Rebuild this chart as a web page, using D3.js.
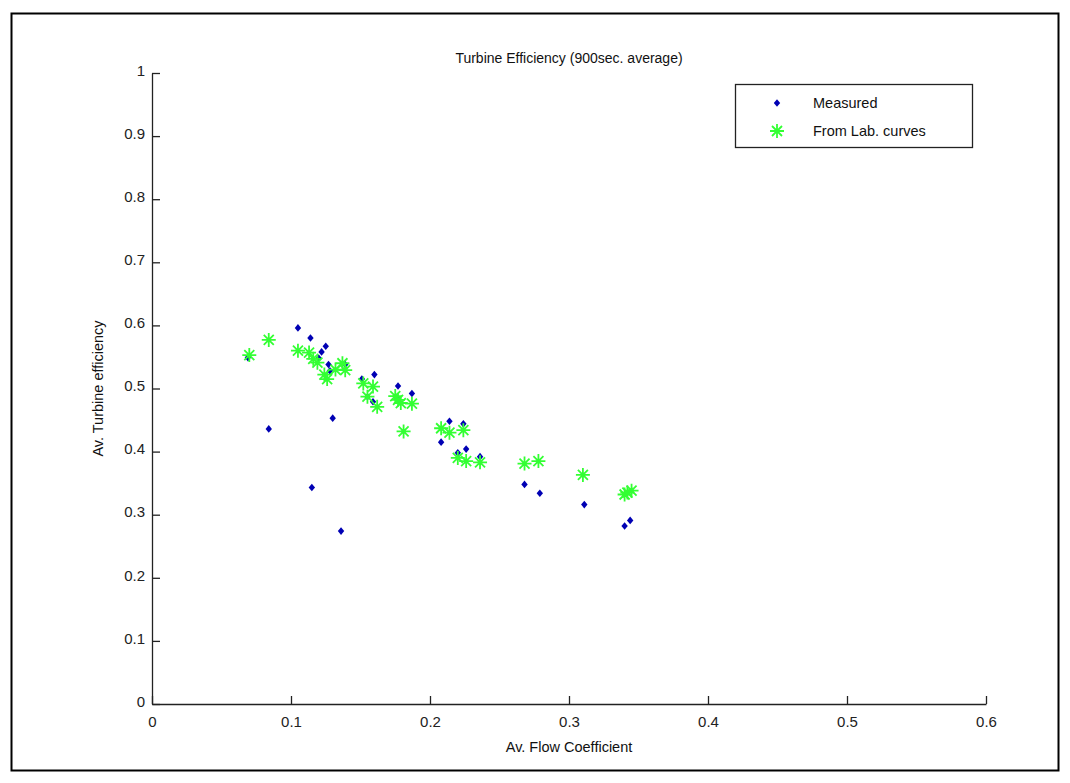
<!DOCTYPE html>
<html>
<head>
<meta charset="utf-8">
<script src="https://cdn.jsdelivr.net/npm/d3@7"></script>
<style>
  body { margin: 0; background: #fff; }
  text { font-family: "Liberation Sans", Arial, sans-serif; }
</style>
</head>
<body>
<div id="chart"></div>
<script>

// data: [flow coefficient, turbine efficiency]
const measured = [
  [0.069, 0.549], [0.084, 0.436], [0.105, 0.596], [0.114, 0.580],
  [0.115, 0.343], [0.120, 0.548], [0.122, 0.558], [0.125, 0.567],
  [0.127, 0.538], [0.128, 0.528], [0.130, 0.453], [0.136, 0.274],
  [0.139, 0.538], [0.151, 0.515], [0.155, 0.487], [0.159, 0.479],
  [0.160, 0.522], [0.176, 0.486], [0.177, 0.504], [0.187, 0.492],
  [0.208, 0.415], [0.214, 0.448], [0.220, 0.398], [0.224, 0.444],
  [0.226, 0.404], [0.236, 0.392], [0.268, 0.348], [0.279, 0.334],
  [0.311, 0.316], [0.340, 0.282], [0.344, 0.291]
];

const fromLab = [
  [0.070, 0.553], [0.084, 0.577], [0.105, 0.560], [0.113, 0.557],
  [0.116, 0.547], [0.119, 0.541], [0.124, 0.522], [0.126, 0.515],
  [0.132, 0.530], [0.137, 0.540], [0.139, 0.529], [0.152, 0.508],
  [0.155, 0.487], [0.159, 0.503], [0.162, 0.471], [0.175, 0.488],
  [0.177, 0.482], [0.179, 0.477], [0.181, 0.432], [0.187, 0.476],
  [0.208, 0.437], [0.214, 0.430], [0.220, 0.390], [0.224, 0.434],
  [0.226, 0.385], [0.236, 0.383], [0.268, 0.381], [0.278, 0.385],
  [0.310, 0.363], [0.340, 0.332], [0.342, 0.335], [0.345, 0.338]
];

const xTicks = [0, 0.1, 0.2, 0.3, 0.4, 0.5, 0.6];
const yTicks = [0, 0.1, 0.2, 0.3, 0.4, 0.5, 0.6, 0.7, 0.8, 0.9, 1];

const seriesNames = ["Measured", "From Lab. curves"];


//--------------------------------------
// SETUP
//--------------------------------------

const W = 1070, H = 783;
const plotL = 152, plotR = 986, plotT = 73, plotB = 704;
const blue = "#0000b4";
const green = "#33ff33";

const svg = d3.select("#chart").append("svg")
  .attr("width", W)
  .attr("height", H);

// outer figure frame
svg.append("rect")
  .attr("x", 11.5).attr("y", 13.5)
  .attr("width", 1047).attr("height", 757)
  .attr("fill", "#fff")
  .attr("stroke", "#000")
  .attr("stroke-width", 2);

const x = d3.scaleLinear().domain([0, 0.6]).range([plotL, plotR]);
const y = d3.scaleLinear().domain([0, 1]).range([plotB, plotT]);

const fmt = d => d === 0 ? "0" : d === 1 ? "1" : d3.format(".1f")(d);


//--------------------------------------
// AXES (ticks inward, no box)
//--------------------------------------

const xAxis = svg.append("g")
  .attr("transform", "translate(0," + plotB + ")")
  .call(d3.axisBottom(x).tickValues(xTicks).tickFormat(fmt).tickSizeInner(-8).tickSizeOuter(0).tickPadding(14));

const yAxis = svg.append("g")
  .attr("transform", "translate(" + plotL + ",0)")
  .call(d3.axisLeft(y).tickValues(yTicks).tickFormat(fmt).tickSizeInner(-8).tickSizeOuter(0).tickPadding(7));

[xAxis, yAxis].forEach(function (a) {
  a.select(".domain").attr("stroke", "#222").attr("stroke-width", 1.3);
  a.selectAll(".tick line").attr("stroke", "#222").attr("stroke-width", 1.3);
  a.selectAll(".tick text")
    .attr("font-family", "Liberation Sans, Arial, sans-serif")
    .attr("font-size", 15)
    .attr("fill", "#222");
});
yAxis.selectAll(".tick text").attr("dy", "0.15em");
xAxis.selectAll(".tick text").attr("dy", "0.6em");


//--------------------------------------
// LABELS
//--------------------------------------

svg.append("text")
  .attr("x", (plotL + plotR) / 2).attr("y", 63)
  .attr("text-anchor", "middle")
  .attr("font-size", 14)
  .attr("fill", "#111")
  .text("Turbine Efficiency (900sec. average)");

svg.append("text")
  .attr("x", (plotL + plotR) / 2).attr("y", 752)
  .attr("text-anchor", "middle")
  .attr("font-size", 14.5)
  .attr("fill", "#111")
  .text("Av. Flow Coefficient");

svg.append("text")
  .attr("transform", "translate(103," + ((plotT + plotB) / 2) + ") rotate(-90)")
  .attr("text-anchor", "middle")
  .attr("font-size", 14.5)
  .attr("fill", "#111")
  .text("Av. Turbine efficiency");


//--------------------------------------
// MARKERS
//--------------------------------------

function drawStar(g, cx, cy) {
  const r = 7, d = 5;
  g.append("path")
    .attr("d", "M" + (cx - r) + "," + cy + "H" + (cx + r) +
               "M" + cx + "," + (cy - r) + "V" + (cy + r) +
               "M" + (cx - d) + "," + (cy - d) + "L" + (cx + d) + "," + (cy + d) +
               "M" + (cx - d) + "," + (cy + d) + "L" + (cx + d) + "," + (cy - d))
    .attr("stroke", green)
    .attr("stroke-width", 1.8)
    .attr("fill", "none");
}

function drawDot(g, cx, cy) {
  g.append("path")
    .attr("d", "M" + cx + "," + (cy - 3.8) + "L" + (cx + 3.2) + "," + cy +
               "L" + cx + "," + (cy + 3.8) + "L" + (cx - 3.2) + "," + cy + "Z")
    .attr("fill", blue);
}

const measuredG = svg.append("g");
measured.forEach(function (p) { drawDot(measuredG, x(p[0]), y(p[1])); });

const labG = svg.append("g");
fromLab.forEach(function (p) { drawStar(labG, x(p[0]), y(p[1])); });


//--------------------------------------
// LEGEND
//--------------------------------------

const legend = svg.append("g");
legend.append("rect")
  .attr("x", 735.5).attr("y", 84.5)
  .attr("width", 237).attr("height", 63)
  .attr("fill", "#fff")
  .attr("stroke", "#222")
  .attr("stroke-width", 1.3);

drawDot(legend, 777, 103);
drawStar(legend, 777, 131);

seriesNames.forEach(function (name, i) {
  legend.append("text")
    .attr("x", 813).attr("y", 108 + i * 28)
    .attr("font-size", 14.5)
    .attr("fill", "#111")
    .text(name);
});

</script>
</body>
</html>
